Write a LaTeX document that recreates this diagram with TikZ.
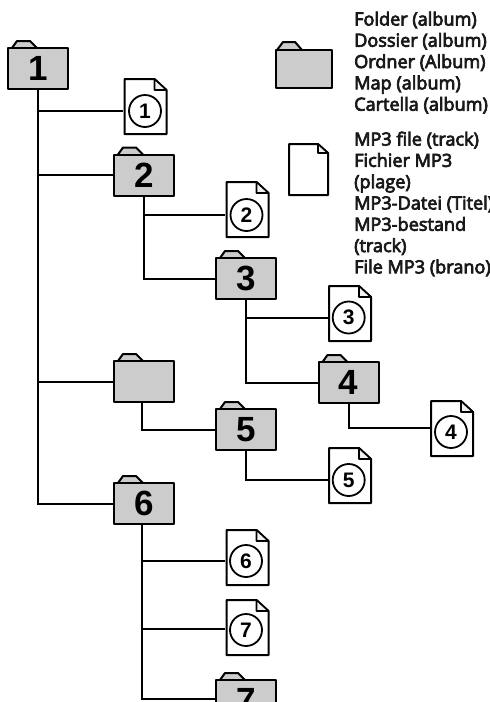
\documentclass[tikz,border=0pt]{standalone}
\usepackage{fontspec}
\setmainfont{Liberation Sans}
\newfontfamily\legendfont[FakeBold=4]{Open Sans}
\definecolor{foldergray}{gray}{0.8}
\tikzset{
  x=1pt,y=-1pt,
  outline/.style={draw=black,line width=2pt,line join=round},
  folderbody/.style={outline,fill=foldergray,rectangle,inner sep=0pt,minimum width=60pt,minimum height=41pt,font=\fontsize{35}{35}\selectfont\bfseries},
  filebox/.style={rectangle,inner sep=0pt,minimum width=44pt,minimum height=57pt},
  numring/.style={circle,draw=black,line width=1.8pt,inner sep=0pt,minimum size=32pt,font=\fontsize{21}{21}\selectfont\bfseries},
  link/.style={draw=black,line width=2pt},
  legendtext/.style={anchor=north west,inner sep=0pt,align=left,font=\fontsize{18.1}{21.3}\legendfont\selectfont,text=black!90}
}
\newcommand{\tabshape}[2]{\draw[outline,fill=foldergray] (#1-26,#2-20.5) -- (#1-21,#2-27.5) -- (#1-8,#2-27.5) -- (#1-1,#2-20.5);}
\newcommand{\folderat}[4]{% name, x, y, label
  \tabshape{#2}{#3}
  \node[folderbody] (#1) at (#2,#3) {#4};}
\newcommand{\fileat}[6]{% name, cx, top, ring x, ring y, label
  \node[filebox] (#1) at (#2,#3+28.5) {};
  \draw[outline,fill=white] (#2-21,#3+1) -- (#2+9,#3+1) -- (#2+21,#3+12) -- (#2+21,#3+56) -- (#2-21,#3+56) -- cycle;
  \draw[outline,line width=1.6pt,fill=black!6] (#2+9,#3+1) -- (#2+9,#3+12) -- (#2+21,#3+12) -- cycle;
  \node[numring] (#1n) at (#4,#5) {#6};}
\begin{document}
\begin{tikzpicture}
\useasboundingbox (0,0) rectangle (490,702);
% folders
\folderat{f1}{38}{68.5}{1}
\folderat{f2}{144}{175}{2}
\folderat{f3}{246}{278.5}{3}
\folderat{f4}{348.5}{382.5}{4}
\folderat{fb}{144}{381.5}{}
\folderat{f5}{246}{429.5}{5}
\folderat{f6}{144}{503.5}{6}
\folderat{f7}{246}{700.5}{7}
% files
\fileat{a1}{145.5}{78}{145}{111}{1}
\fileat{a2}{247.5}{181}{246.5}{215}{2}
\fileat{a3}{350}{285}{348.7}{317.5}{3}
\fileat{a4}{452}{400}{451}{432}{4}
\fileat{a5}{350}{447}{348.7}{480}{5}
\fileat{a6}{247.5}{529}{246}{561}{6}
\fileat{a7}{247.5}{599}{246}{630}{7}
% connectors
\draw[link] (f1.south) |- (a1.west |- a1n);
\draw[link] (f1.south) |- (f2.west);
\draw[link] (f1.south) |- (fb.west);
\draw[link] (f1.south) |- (f6.west);
\draw[link] (f2.south) |- (a2.west |- a2n);
\draw[link] (f2.south) |- (f3.west);
\draw[link] (f3.south) |- (a3.west |- a3n);
\draw[link] (f3.south) |- (f4.west);
\draw[link] (f4.south) |- ([yshift=4pt]a4.west |- a4n);
\draw[link] ([xshift=-2pt]fb.south) |- (f5.west);
\draw[link] (f5.south) |- (a5.west |- a5n);
\draw[link] ([xshift=-2pt]f6.south) |- (a6.west |- a6n);
\draw[link] ([xshift=-2pt]f6.south) |- ([yshift=1pt]a7.west |- a7n);
\draw[link] ([xshift=-2pt]f6.south) |- ([yshift=1.5pt]f7.west);
% legend
\draw[outline,fill=foldergray] (277,50) -- (283,42) -- (295,42) -- (302,50);
\node[outline,fill=foldergray,rectangle,inner sep=0pt,minimum width=56pt,minimum height=38pt] (lf) at (303.5,68.5) {};
\draw[outline,fill=white] (289,144) -- (318,144) -- (328,153) -- (328,195) -- (289,195) -- cycle;
\draw[outline,line width=1.6pt,fill=black!6] (318,144) -- (318,153) -- (328,153) -- cycle;
\node[legendtext] (lt1) at (354,11.5) {Folder (album)\\Dossier (album)\\Ordner (Album)\\Map (album)\\Cartella (album)};
\node[legendtext] (lt2) at (354,131.5) {MP3 file (track)\\Fichier MP3\\(plage)\\MP3-Datei (Titel)\\MP3-bestand\\(track)\\File MP3 (brano)};
\end{tikzpicture}
\end{document}
